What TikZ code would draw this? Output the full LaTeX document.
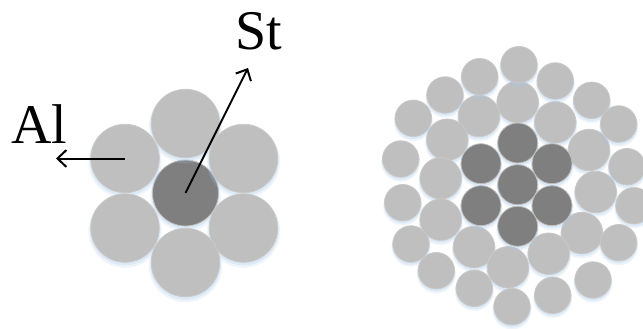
\documentclass[tikz,border=0pt]{standalone}
\usepackage{fontspec}
\setmainfont{Liberation Serif}
\usetikzlibrary{arrows.meta,shadows}
\definecolor{wireL}{HTML}{BFBFBF}
\definecolor{wireD}{HTML}{7F7F7F}
\definecolor{wireE}{HTML}{C9C9C9}
\definecolor{glow}{HTML}{A9C8E8}
\tikzset{
  softglow/.style={
    general shadow={shadow scale=1.07,shadow yshift=-3pt,fill=glow,opacity=.18},
    general shadow={shadow scale=1.03,shadow yshift=-2pt,fill=glow,opacity=.28}},
  wire/.style={circle,inner sep=0pt,outer sep=0pt,draw=wireE,line width=.8pt,fill=wireL,softglow},
  albig/.style={wire,minimum size=68.5pt},
  stbig/.style={wire,fill=wireD,draw=wireL,minimum size=66pt},
  almid/.style={wire,minimum size=41.5pt},
  alout/.style={wire,minimum size=36.5pt},
  stsmall/.style={wire,fill=wireD,draw=wireL,minimum size=40pt},
  lab/.style={inner sep=0pt,anchor=base west,font=\fontsize{56}{56}\selectfont},
  pointer/.style={line width=2pt,-{Straight Barb[length=9pt,width=17pt,line width=2pt]}}
}
\begin{document}
\begin{tikzpicture}[x=1pt,y=-1pt]
\useasboundingbox (0,0) rectangle (643,329);
% left strand
\node[stbig] (c0) at (185.5,193) {};
\node[albig] (a1) at (185.5,123.5) {};
\node[albig] (a2) at (125,158.5) {};
\node[albig] (a3) at (243.5,158.5) {};
\node[albig] (a4) at (125,228) {};
\node[albig] (a5) at (243.5,228) {};
\node[albig] (a6) at (185.5,262.5) {};
\node[lab] (al) at (11,143) {Al};
\node[lab] (st) at (235,49.5) {St};
\coordinate (alend) at (56,158.5);
\coordinate (stend) at (248,68);
\draw[pointer] (a2.center) -- (alend);
\draw[pointer] (c0.center) -- (stend);
% right strand: middle layer
\node[almid] (m1) at (517.7,102) {};
\node[almid] (m2) at (479,116) {};
\node[almid] (m3) at (555.3,122.3) {};
\node[almid] (m4) at (447.3,139.7) {};
\node[almid] (m5) at (589,150) {};
\node[almid] (m6) at (440.7,178.3) {};
\node[almid] (m7) at (595.7,192) {};
\node[almid] (m8) at (440.7,219.7) {};
\node[almid] (m9) at (582,233) {};
\node[almid] (m10) at (474,247) {};
\node[almid] (m11) at (548.7,253.7) {};
\node[almid] (m12) at (508,267.3) {};
% outer layer
\node[alout] (o1) at (519,64.7) {};
\node[alout] (o2) at (479.7,76.7) {};
\node[alout] (o3) at (555.3,81) {};
\node[alout] (o4) at (445,95) {};
\node[alout] (o5) at (591.7,100.3) {};
\node[alout] (o6) at (413.3,118.3) {};
\node[alout] (o7) at (618.7,124) {};
\node[alout] (o8) at (400.7,159) {};
\node[alout] (o9) at (627,166.7) {};
\node[alout] (o10) at (402.7,202.7) {};
\node[alout] (o11) at (634,205.7) {};
\node[alout] (o12) at (618.7,242.7) {};
\node[alout] (o13) at (411,244) {};
\node[alout] (o14) at (436.3,270.7) {};
\node[alout] (o15) at (593,280) {};
\node[alout] (o16) at (474.3,288.3) {};
\node[alout] (o17) at (552.7,295.3) {};
\node[alout] (o18) at (512,306.7) {};
% steel core
\node[stsmall] (s1) at (517.7,143) {};
\node[stsmall] (s2) at (481,163.7) {};
\node[stsmall] (s3) at (552,163.7) {};
\node[stsmall] (s4) at (517.7,184.7) {};
\node[stsmall] (s5) at (481,205.7) {};
\node[stsmall] (s6) at (552,205.7) {};
\node[stsmall] (s7) at (517.7,226.3) {};
\end{tikzpicture}
\end{document}
